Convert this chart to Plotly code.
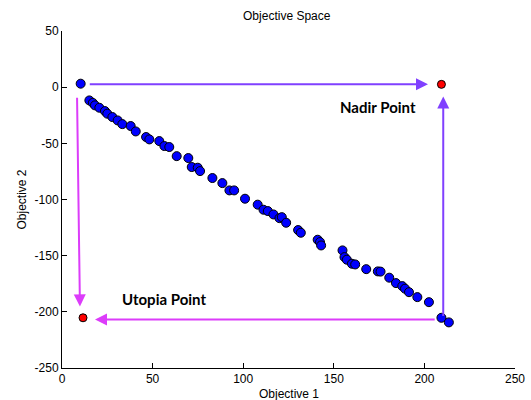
import plotly.graph_objects as go

# Pareto front samples (objective 1, objective 2)
obj1 = [10.3, 15.1, 17.0, 18.2, 20.6, 23.7, 25.0, 27.8, 30.7, 33.3, 37.9, 40.7,
        46.4, 48.2, 53.7, 56.5, 59.2, 63.3, 69.7, 71.6, 74.9, 76.2, 83.0, 88.5,
        92.4, 95.0, 101.0, 108.0, 111.2, 113.6, 116.7, 120.0, 121.3, 123.7,
        130.3, 131.8, 141.1, 142.4, 143.0, 154.8, 155.9, 157.2, 160.0, 161.8,
        167.9, 174.3, 175.8, 180.6, 184.3, 187.8, 189.3, 191.5, 196.1, 202.5,
        209.4, 213.5]
obj2 = [3.1, -11.8, -14.0, -16.2, -18.3, -21.3, -23.6, -26.6, -29.6, -32.9, -34.6, -39.4,
        -44.4, -46.5, -48.0, -52.4, -53.3, -61.4, -63.1, -71.1, -71.7, -74.7, -80.9, -85.4,
        -91.9, -91.9, -99.3, -104.6, -109.1, -110.3, -113.3, -116.6, -115.7, -120.7,
        -127.2, -129.6, -135.8, -137.9, -140.9, -145.3, -151.3, -153.6, -157.2, -157.8,
        -162.0, -164.0, -164.2, -169.6, -174.4, -177.1, -179.4, -182.5, -186.9, -191.4,
        -205.3, -209.4]

# Reference points
ref_x = [209.4, 11.6]
ref_y = [2.5, -205.3]
ref_names = ["Nadir Point", "Utopia Point"]

# Arrows: (tail x, tail y, head x, head y, colour)
arrows = [
    (14.5, 2.5, 202.0, 2.5, "#8040ff"),
    (210.4, -205.0, 210.4, -8.2, "#8040ff"),
    (206.5, -206.8, 18.2, -206.8, "#dc3cfa"),
    (8.3, -8.0, 9.9, -195.2, "#dc3cfa"),
]

x_ticks = [0, 50, 100, 150, 200, 250]
y_ticks = [50, 0, -50, -100, -150, -200, -250]
x_ticktext = [str(v) for v in x_ticks]
y_ticktext = [str(v) for v in y_ticks]

FONT = "Liberation Sans, Arial, sans-serif"

fig = go.Figure()
fig.add_trace(go.Scatter(
    x=obj1, y=obj2, mode="markers",
    marker=dict(size=9, color="#0000ff", line=dict(color="black", width=1)),
    showlegend=False, cliponaxis=False,
))
fig.add_trace(go.Scatter(
    x=ref_x, y=ref_y, mode="markers",
    marker=dict(size=8, color="#ff0000", line=dict(color="black", width=1)),
    showlegend=False, cliponaxis=False,
))

annotations = []
for tx, ty, hx, hy, col in arrows:
    annotations.append(dict(
        x=hx, y=hy, ax=tx, ay=ty, xref="x", yref="y", axref="x", ayref="y",
        text="", showarrow=True, arrowhead=2, arrowsize=1.2, arrowwidth=2,
        arrowcolor=col, standoff=0, startstandoff=0,
    ))

label_font = dict(family="Lato, Open Sans, sans-serif", size=15, color="black")
annotations.append(dict(x=ref_x[0] - 35, y=-17.5, xref="x", yref="y",
                        text="<b>%s</b>" % ref_names[0], showarrow=False, font=label_font))
annotations.append(dict(x=56.5, y=-189.0, xref="x", yref="y",
                        text="<b>%s</b>" % ref_names[1], showarrow=False, font=label_font))

# Axis titles
annotations.append(dict(x=0.5, y=0, xref="paper", yref="paper", yanchor="top", yshift=-17,
                        text="Objective 1", showarrow=False,
                        font=dict(family=FONT, size=12, color="black")))
annotations.append(dict(x=0, y=0.5, xref="paper", yref="paper", xanchor="right", xshift=-32,
                        text="Objective 2", showarrow=False, textangle=-90,
                        font=dict(family=FONT, size=12, color="black")))

axis_common = dict(
    showline=True, linecolor="black", linewidth=1, mirror=False,
    showgrid=False, zeroline=False, ticks="inside", ticklen=5,
    tickcolor="black", automargin=False,
    tickfont=dict(family=FONT, size=12, color="black"),
)

fig.update_layout(
    width=531, height=400,
    margin=dict(l=62, r=16, t=31, b=32),
    paper_bgcolor="white", plot_bgcolor="white",
    title=dict(text="Objective Space", x=0.54, xanchor="center", y=0.96, yanchor="middle",
               font=dict(family=FONT, size=12, color="black")),
    xaxis=dict(range=[0, 250], tickvals=x_ticks, ticktext=x_ticktext, **axis_common),
    yaxis=dict(range=[-250, 50], tickvals=y_ticks, ticktext=y_ticktext, **axis_common),
    annotations=annotations,
)

fig.write_html("out.html")
